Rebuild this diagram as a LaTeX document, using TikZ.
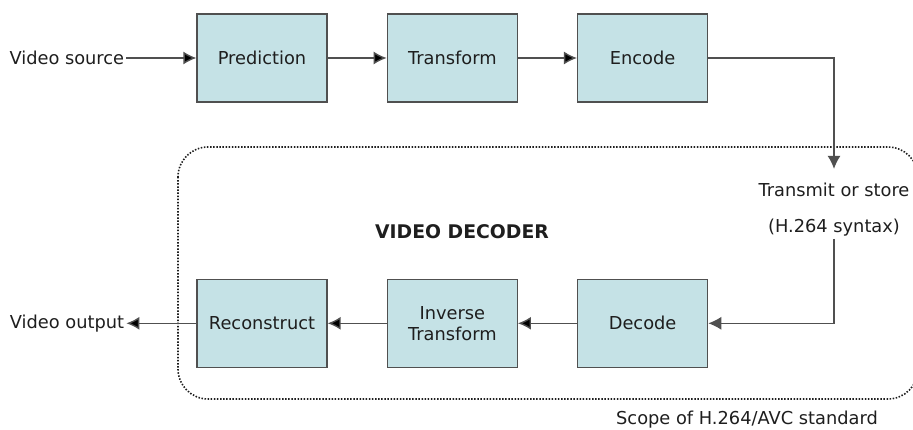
\documentclass[tikz,border=0pt]{standalone}
\usepackage{fontspec}
\setmainfont{DejaVu Sans}
\usetikzlibrary{arrows.meta,positioning,calc}
\definecolor{boxfill}{RGB}{197,226,230}
\definecolor{boxline}{RGB}{80,80,80}
\definecolor{inkcol}{RGB}{30,30,30}
\tikzset{stage node/.style={rectangle,fill=boxfill,draw=boxline,line width=1.3pt,minimum width=130pt,minimum height=88pt,inner sep=2pt,align=center},
}
\tikzstyle{label node}=[inner sep=2pt,align=center]
\tikzstyle{flow}=[draw=boxline,line width=1.4pt,-{Latex[length=13pt,width=13pt]}]

\begin{document}
\begin{tikzpicture}[x=1pt,y=1pt,font=\fontsize{17.8}{21}\selectfont,text=inkcol]
		\useasboundingbox (0,0) rectangle (913,-430);
		% scope of the standard
		\draw[inkcol,line width=1.6pt,dash pattern=on 1.5pt off 1.6pt,rounded corners=30pt] (178,-147) rectangle (918,-399);
		
		% encoder chain
		\node[stage node] (pred) at (262,-58) {Prediction};
		\node[stage node] (trans) [right = 59pt of pred] {Transform};
		\node[stage node] (enc) [right = 59pt of trans] {Encode};
		\node[label node] (src) [left = 70pt of pred] {Video source};
		
		% decoder chain
		\node[stage node] (rec) [below = 176pt of pred] {Reconstruct};
		\node[stage node] (inv) [right = 59pt of rec] {Inverse\\Transform};
		\node[stage node] (dec) [right = 59pt of inv] {Decode};
		\node[label node] (out) [left = 70pt of rec] {Video output};
		
		\node[label node] (tx) at (834,-190) {Transmit or store};
		\node[label node] (syn) at (834,-228) {(H.264 syntax)};
		\node[label node,font=\fontsize{18.8}{22}\selectfont\bfseries] (vd) at (462,-232) {VIDEO DECODER};
		\node[label node] (scope) at (747,-420) {Scope of H.264/AVC standard};
		
		\path[flow]
		(src) edge (pred)
		(pred) edge (trans)
		(trans) edge (enc)
		(dec) edge (inv)
		(inv) edge (rec)
		(rec) edge (out)
		;
		\draw[flow] (enc.east) -| ([yshift=12pt]tx.north);
		\draw[flow] (syn.south) |- (dec.east);
		\end{tikzpicture}
\end{document}
